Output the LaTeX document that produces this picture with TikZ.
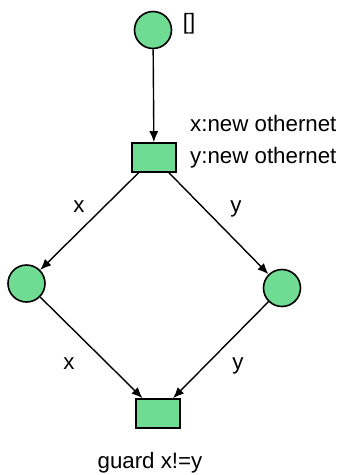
\documentclass[tikz,border=0pt]{standalone}
\usepackage{fontspec}
\setmainfont{Liberation Sans}
\usetikzlibrary{arrows.meta}
\definecolor{placegreen}{RGB}{112,219,147}
\tikzset{
  place/.style={circle, draw=black, fill=placegreen, line width=1.6pt, minimum size=37pt, inner sep=0pt},
  trans/.style={rectangle, draw=black, fill=placegreen, line width=1.6pt, minimum width=44pt, minimum height=29pt, inner sep=0pt},
  arc/.style={draw=black, line width=1.4pt, -{Latex[length=11pt,width=9pt]}},
  lbl/.style={font=\fontsize{22.3}{26}\selectfont, inner sep=0pt}
}
\begin{document}
\begin{tikzpicture}[x=1pt,y=-1pt]
\useasboundingbox[fill=white] (0,0) rectangle (339,475);
\node[place] (p0) at (153,30) {};
\node[trans] (t1) at (154,157.5) {};
\node[place] (p1) at (26.5,283.5) {};
\node[place] (p2) at (282,288) {};
\node[trans] (t2) at (158,413.5) {};

\draw[arc] (p0) -- (t1);
\draw[arc] (t1) -- (p1);
\draw[arc] (t1) -- (p2);
\draw[arc] (p1) -- (t2);
\draw[arc] (p2) -- (t2);

\node[lbl, anchor=base] (l0) at (189,29) {[]};
\node[lbl, anchor=base west] (l1) at (190,131) {x:new othernet};
\node[lbl, anchor=base west] (l2) at (190,163) {y:new othernet};
\node[lbl, anchor=base] (l3) at (79,212) {x};
\node[lbl, anchor=base] (l4) at (236,212) {y};
\node[lbl, anchor=base] (l5) at (69,369) {x};
\node[lbl, anchor=base] (l6) at (238,369) {y};
\node[lbl, anchor=base] (l7) at (150,468) {guard x!=y};
\end{tikzpicture}
\end{document}
